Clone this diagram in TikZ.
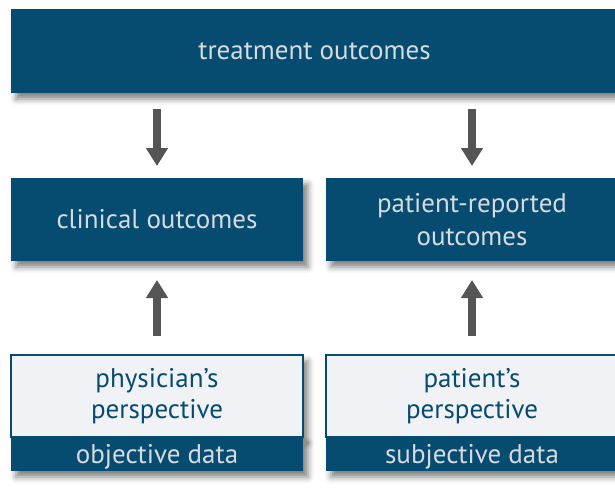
\documentclass[tikz,border=0pt]{standalone}
\usepackage{fontspec}
\setmainfont{PT Sans}
\usetikzlibrary{positioning,arrows.meta,shadows.blur}

\definecolor{boxblue}{HTML}{064B70}
\definecolor{boxtext}{HTML}{D6DBE0}
\definecolor{paleblue}{HTML}{F0F2F5}
\definecolor{arrowgray}{HTML}{555555}

\begin{document}
\begin{tikzpicture}[
x=0.5pt, y=-0.5pt,
darkbox/.style={rectangle, fill=boxblue, text=boxtext, align=center, inner sep=0pt, outer sep=0pt,
  minimum width=146pt, minimum height=41.5pt, font=\fontsize{13.5}{16.5}\selectfont,
  blur shadow={shadow xshift=2.5pt, shadow yshift=-3pt, shadow blur radius=3pt, shadow opacity=50}},
lightbox/.style={rectangle, fill=paleblue, draw=boxblue, line width=0.6pt, text=boxblue, align=center,
  inner sep=0pt, outer sep=0pt, minimum width=146pt, minimum height=41pt,
  font=\fontsize{13.5}{15.5}\selectfont,
  blur shadow={shadow xshift=2.5pt, shadow yshift=-3pt, shadow blur radius=3pt, shadow opacity=50}},
band/.style={rectangle, fill=boxblue, text=boxtext, inner sep=0pt, outer sep=0pt,
  minimum width=146pt, minimum height=17pt, text height=12.5pt, text depth=3pt,
  font=\fontsize{13.5}{15}\selectfont,
  blur shadow={shadow xshift=2.5pt, shadow yshift=-3pt, shadow blur radius=3pt, shadow opacity=50}},
flow/.style={draw=arrowgray, line width=4pt, -{Triangle[width=10.5pt,length=9pt]}},
]
\useasboundingbox (0,0) rectangle (615,498);
\clip (0,0) rectangle (615,498);

%Nodes
\node[darkbox, minimum width=303.5pt, minimum height=42pt] (top) at (314.5,51) {treatment outcomes};
\node[darkbox]               (clin) at (157,219.5)   {clinical outcomes};
\node[darkbox]               (pro)  [right=11.5pt of clin] {patient-reported\\outcomes};
\node[lightbox]              (phys) [below=47pt of clin]   {physician’s\\perspective};
\node[band]                  (objd) [below=0pt of phys]    {objective data};
\node[lightbox]              (pat)  [below=47pt of pro]    {patient’s\\perspective};
\node[band]                  (subj) [below=0pt of pat]     {subjective data};

%Arrows
\draw[flow, shorten <=8pt, shorten >=6pt] (top.south -| clin.north) -- (clin.north);
\draw[flow, shorten <=8pt, shorten >=6pt] (top.south -| pro.north) -- (pro.north);
\draw[flow, shorten <=9.5pt, shorten >=9.5pt] (phys.north) -- (clin.south);
\draw[flow, shorten <=9.5pt, shorten >=9.5pt] (pat.north) -- (pro.south);

\end{tikzpicture}
\end{document}
